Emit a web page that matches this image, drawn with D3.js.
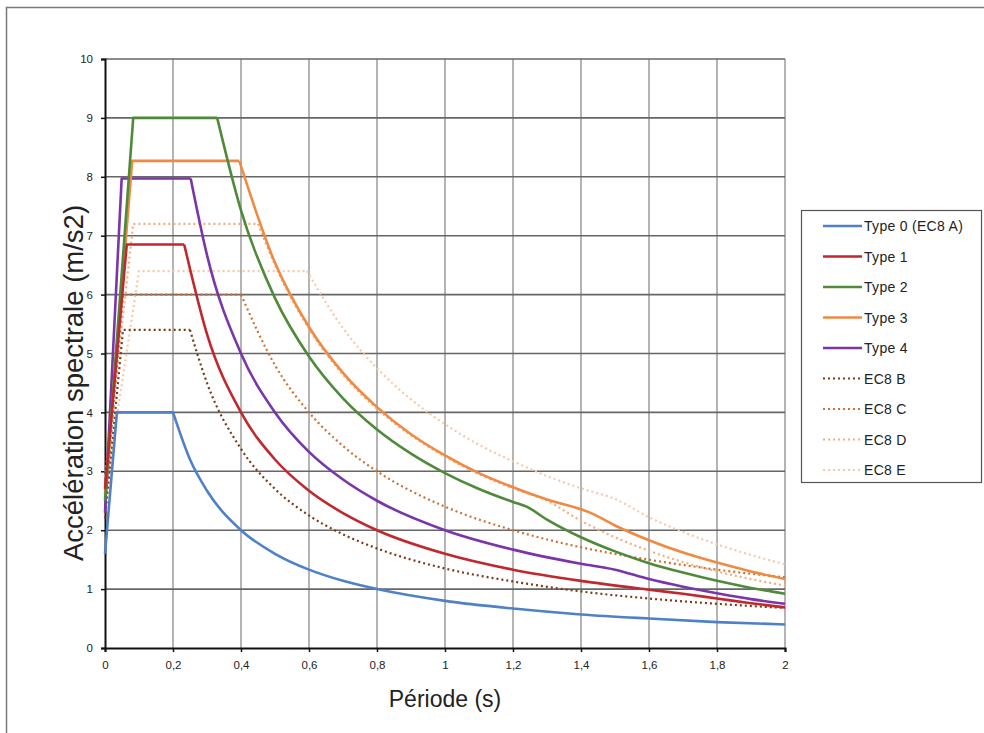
<!DOCTYPE html>
<html>
<head>
    <meta charset="utf-8">
    <title>Spectres de réponse</title>
    <script src="https://d3js.org/d3.v7.min.js"></script>
    <style>
        body { margin: 0; background: #fff; }
        text { font-family: "Liberation Sans", Arial, sans-serif; fill: #222; }
    </style>
</head>
<body>
    <svg id="chart" width="984" height="733"></svg>

    <script type="text/javascript">
        // x ticks (period, s) and y ticks (m/s2)
        var xTicks = [0, 0.2, 0.4, 0.6, 0.8, 1, 1.2, 1.4, 1.6, 1.8, 2];
        var yTicks = [0, 1, 2, 3, 4, 5, 6, 7, 8, 9, 10];

        // each curve: rising branch + plateau (straight), then decaying branch
        var type0Head = [[0, 1.6], [0.035, 4.0], [0.2, 4.0]];
        var type0Tail = [[0.2, 4.0], [0.25, 3.2], [0.3, 2.67], [0.4, 2.0], [0.5, 1.6], [0.6, 1.33], [0.7, 1.14], [0.8, 1.0], [1.0, 0.8], [1.2, 0.67], [1.4, 0.57], [1.6, 0.5], [1.8, 0.44], [2.0, 0.4]];

        var type1Head = [[0, 2.7], [0.064, 6.85], [0.233, 6.85]];
        var type1Tail = [[0.233, 6.85], [0.3, 5.33], [0.4, 4.0], [0.5, 3.2], [0.6, 2.67], [0.7, 2.29], [0.8, 2.0], [1.0, 1.6], [1.2, 1.33], [1.4, 1.14], [1.6, 0.99], [1.7, 0.92], [1.8, 0.84], [1.9, 0.76], [2.0, 0.69]];

        var type2Head = [[0, 2.5], [0.083, 9.0], [0.33, 9.0]];
        var type2Tail = [[0.33, 9.0], [0.4, 7.43], [0.5, 5.94], [0.6, 4.95], [0.7, 4.24], [0.8, 3.71], [0.9, 3.3], [1.0, 2.97], [1.1, 2.7], [1.2, 2.48], [1.24, 2.4], [1.3, 2.18], [1.4, 1.88], [1.5, 1.64], [1.6, 1.44], [1.7, 1.28], [1.8, 1.14], [1.9, 1.02], [2.0, 0.92]];

        var type3Head = [[0, 2.6], [0.08, 8.27], [0.395, 8.27]];
        var type3Tail = [[0.395, 8.27], [0.5, 6.54], [0.6, 5.45], [0.7, 4.67], [0.8, 4.09], [0.9, 3.63], [1.0, 3.27], [1.1, 2.97], [1.2, 2.73], [1.3, 2.52], [1.43, 2.29], [1.5, 2.08], [1.6, 1.83], [1.7, 1.62], [1.8, 1.45], [1.9, 1.3], [2.0, 1.17]];

        var type4Head = [[0, 2.3], [0.049, 7.97], [0.252, 7.97]];
        var type4Tail = [[0.252, 7.97], [0.3, 6.67], [0.4, 5.0], [0.5, 4.0], [0.6, 3.33], [0.7, 2.86], [0.8, 2.5], [1.0, 2.0], [1.2, 1.67], [1.4, 1.43], [1.5, 1.33], [1.6, 1.17], [1.7, 1.04], [1.8, 0.93], [1.9, 0.83], [2.0, 0.75]];

        var ec8bHead = [[0, 2.2], [0.053, 5.4], [0.25, 5.4]];
        var ec8bTail = [[0.25, 5.4], [0.3, 4.5], [0.4, 3.38], [0.5, 2.7], [0.6, 2.25], [0.7, 1.93], [0.8, 1.69], [1.0, 1.35], [1.2, 1.13], [1.4, 0.96], [1.6, 0.84], [1.8, 0.75], [2.0, 0.68]];

        var ec8cHead = [[0, 2.4], [0.053, 6.0], [0.4, 6.0]];
        var ec8cTail = [[0.4, 6.0], [0.5, 4.8], [0.6, 4.0], [0.7, 3.43], [0.8, 3.0], [1.0, 2.4], [1.2, 2.0], [1.4, 1.71], [1.6, 1.5], [1.8, 1.33], [2.0, 1.2]];

        var ec8dHead = [[0, 2.9], [0.083, 7.2], [0.45, 7.2]];
        var ec8dTail = [[0.45, 7.2], [0.5, 6.5], [0.6, 5.42], [0.7, 4.64], [0.8, 4.06], [0.9, 3.61], [1.0, 3.25], [1.1, 2.95], [1.2, 2.71], [1.3, 2.5], [1.4, 2.16], [1.5, 1.88], [1.6, 1.65], [1.7, 1.46], [1.8, 1.3], [1.9, 1.17], [2.0, 1.06]];

        var ec8eHead = [[0, 2.6], [0.1, 6.4], [0.594, 6.4]];
        var ec8eTail = [[0.594, 6.4], [0.7, 5.43], [0.8, 4.75], [0.9, 4.22], [1.0, 3.8], [1.1, 3.45], [1.2, 3.17], [1.3, 2.92], [1.4, 2.71], [1.5, 2.53], [1.6, 2.22], [1.7, 1.97], [1.8, 1.76], [1.9, 1.58], [2.0, 1.42]];

        var seriesNames = ["Type 0 (EC8 A)", "Type 1", "Type 2", "Type 3", "Type 4", "EC8 B", "EC8 C", "EC8 D", "EC8 E"];
        var seriesColors = ["#4f81c7", "#c0282d", "#4e8a3a", "#f08a42", "#7a35a8", "#7a3b18", "#cc7236", "#f3ae80", "#f7c8aa"];
        var seriesDotted = [false, false, false, false, false, true, true, true, true];
        var seriesHeads = [type0Head, type1Head, type2Head, type3Head, type4Head, ec8bHead, ec8cHead, ec8dHead, ec8eHead];
        var seriesTails = [type0Tail, type1Tail, type2Tail, type3Tail, type4Tail, ec8bTail, ec8cTail, ec8dTail, ec8eTail];

        var series = seriesNames.map(function(n, i) {
            return { name: n, color: seriesColors[i], dotted: seriesDotted[i], head: seriesHeads[i], tail: seriesTails[i] };
        });

        var svg = d3.select("#chart");

        // outer frame
        svg.append("rect")
            .attr("x", 6.5).attr("y", 7.5)
            .attr("width", 990).attr("height", 740)
            .attr("fill", "#fff")
            .attr("stroke", "#7a7a7a")
            .attr("stroke-width", 1.5);

        var x = d3.scaleLinear().domain([0, 2]).range([105, 785]);
        var y = d3.scaleLinear().domain([0, 10]).range([648, 59]);

        // grid
        svg.append("g").selectAll("line.v")
            .data(xTicks.slice(1))
            .enter().append("line")
            .attr("x1", function(d) { return x(d); })
            .attr("x2", function(d) { return x(d); })
            .attr("y1", y(0)).attr("y2", y(10))
            .attr("stroke", "#b4b4b4")
            .attr("stroke-width", 2);

        svg.append("g").selectAll("line.h")
            .data(yTicks.slice(1))
            .enter().append("line")
            .attr("x1", x(0)).attr("x2", x(2))
            .attr("y1", function(d) { return y(d); })
            .attr("y2", function(d) { return y(d); })
            .attr("stroke", "#666")
            .attr("stroke-width", 1.6);

        // axes
        var xAxis = d3.axisBottom(x).tickValues(xTicks).tickSize(4).tickPadding(9)
            .tickFormat(function(d) { return String(d).replace(".", ","); });
        var yAxis = d3.axisLeft(y).tickValues(yTicks).tickSize(4).tickPadding(8);

        var gx = svg.append("g").attr("transform", "translate(0," + y(0) + ")").call(xAxis);
        var gy = svg.append("g").attr("transform", "translate(" + x(0) + ",0)").call(yAxis);
        [gx, gy].forEach(function(g) {
            g.select(".domain").attr("stroke", "#111").attr("stroke-width", 2);
            g.selectAll(".tick line").attr("stroke", "#111").attr("stroke-width", 1.5);
            g.selectAll(".tick text").attr("font-size", 11.5).attr("fill", "#333")
                .style("font-family", "'Liberation Sans', Arial, sans-serif");
        });

        // curves
        var lineStraight = d3.line()
            .x(function(d) { return x(d[0]); })
            .y(function(d) { return y(d[1]); });
        var lineSmooth = d3.line()
            .x(function(d) { return x(d[0]); })
            .y(function(d) { return y(d[1]); })
            .curve(d3.curveMonotoneX);

        var curves = svg.append("g");
        series.slice().reverse().forEach(function(s) {
            var g = curves.append("g")
                .attr("fill", "none")
                .attr("stroke", s.color)
                .attr("stroke-width", s.dotted ? 2.2 : 2.6)
                .attr("stroke-linejoin", "round")
                .attr("stroke-dasharray", s.dotted ? "2,3" : null);
            g.append("path").attr("d", lineStraight(s.head));
            g.append("path").attr("d", lineSmooth(s.tail));
        });

        // axis titles
        svg.append("text")
            .attr("x", 445).attr("y", 707)
            .attr("text-anchor", "middle")
            .attr("font-size", 23)
            .text("Période (s)");

        svg.append("text")
            .attr("transform", "translate(83,383) rotate(-90)")
            .attr("text-anchor", "middle")
            .attr("font-size", 27.5)
            .text("Accélération spectrale (m/s2)");

        // legend
        var legend = svg.append("g");
        legend.append("rect")
            .attr("x", 801.5).attr("y", 210.5)
            .attr("width", 180).attr("height", 272)
            .attr("fill", "#fff")
            .attr("stroke", "#555")
            .attr("stroke-width", 1.2);

        var items = legend.selectAll("g.item")
            .data(series)
            .enter().append("g")
            .attr("transform", function(d, i) { return "translate(0," + (226 + i * 30.5) + ")"; });

        items.append("line")
            .attr("x1", 823).attr("x2", 862)
            .attr("stroke", function(d) { return d.color; })
            .attr("stroke-width", function(d) { return d.dotted ? 2 : 2.6; })
            .attr("stroke-dasharray", function(d) { return d.dotted ? "2,3" : null; });

        items.append("text")
            .attr("x", 864).attr("y", 5)
            .attr("font-size", 14)
            .attr("letter-spacing", 0.3)
            .text(function(d) { return d.name; });
    </script>
</body>
</html>
